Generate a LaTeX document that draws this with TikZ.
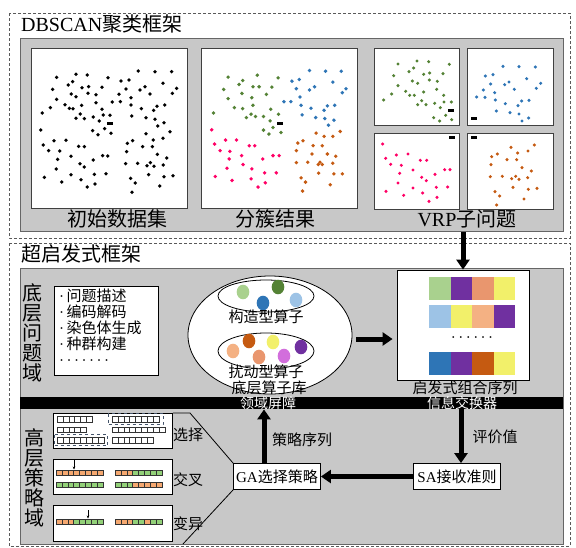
\documentclass[tikz,border=0pt]{standalone}
\usepackage{fontspec}
\setmainfont{Noto Sans CJK SC}
\newfontfamily\lat{Liberation Serif}
\usepackage{tikz}
\usetikzlibrary{arrows.meta}
\usetikzlibrary{positioning}
\usetikzlibrary{shapes.geometric}
\definecolor{boxgray}{RGB}{200,200,200}
\definecolor{dashblue}{RGB}{68,84,106}
\definecolor{cGreen}{RGB}{84,130,53}
\definecolor{cBlue}{RGB}{46,117,182}
\definecolor{cPink}{RGB}{255,0,102}
\definecolor{cOrange}{RGB}{197,90,17}
\definecolor{opLG}{RGB}{169,209,142}
\definecolor{opLB}{RGB}{157,195,230}
\definecolor{opYe}{RGB}{242,240,106}
\definecolor{opPu}{RGB}{112,48,160}
\definecolor{opLO}{RGB}{244,177,131}
\definecolor{opSal}{RGB}{233,150,110}
\definecolor{opOrc}{RGB}{210,110,220}
\definecolor{go}{RGB}{245,168,112}
\definecolor{gg}{RGB}{146,208,120}
\newcommand{\genes}[3]{%
  \foreach \gc [count=\gi from 0] in {#3}
    \draw[gene, fill=\gc] ({#1+\gi*5.9},#2) rectangle ++(5.9,5.6);}
\newcommand{\marker}[2]{\fill ({#1-3},{#2-1.5}) rectangle ({#1+3},{#2+1.5});}
\newcommand{\bul}{{\lat\textperiodcentered}}

\begin{document}
\begin{tikzpicture}[x=1pt,y=-1pt,
    frame/.style={draw=black!65, dash pattern=on 3pt off 2pt, line width=0.6pt},
    graybox/.style={draw=black!60, fill=boxgray, line width=1pt, inner sep=0pt, anchor=north west},
    panel/.style={draw=black!75, fill=white, line width=0.9pt},
    wbox/.style={draw=black, fill=white, line width=0.8pt, inner sep=0pt},
    lbl/.style={font=\fontsize{15}{15}\selectfont, inner sep=0pt},
    biglbl/.style={font=\fontsize{20}{20}\selectfont, inner sep=0pt},
    bigarrow/.style={line width=5pt, -{Triangle[length=10pt,width=13pt]}},
    gene/.style={draw=black!80, line width=0.5pt},
    selframe/.style={draw=dashblue, dashed, line width=0.8pt},
    tinyarrow/.style={line width=0.6pt, -{Stealth[length=3pt,width=2.6pt]}}]
    \useasboundingbox (0,0) rectangle (576,547);

    % DBSCAN part
    \draw[frame] (9,13) rectangle (570,238);
    \node[biglbl, anchor=west] (dbtitle) at (21,24) {{\lat DBSCAN}聚类框架};
    \node[graybox, minimum width=543pt, minimum height=193pt] (dbbox) at (20,38) {};
    \draw[panel] (31,48) rectangle (187,208);
    \draw[panel] (201,48) rectangle (357,208);
    \draw[panel] (374,48) rectangle (459,125);
    \draw[panel] (467,48) rectangle (553,125);
    \draw[panel] (374,133) rectangle (459,209);
    \draw[panel] (467,133) rectangle (553,209);

    \foreach \x/\y in {110/112,168/103,202/105,264/113,355/93,405/95,455/95,
      98/148,145/135,158/125,186/143,206/140,246/142,303/123,327/120,429/130,375/140,360/150,318/147,470/145,457/160,
      154/162,168/170,204/160,228/164,297/163,333/173,390/162,
      110/178,228/188,277/186,301/185,333/195,185/196,135/194,148/205,159/206,
      91/203,67/219,181/222,168/235,193/236,220/231,246/208,250/225,270/226,238/243,335/228,364/206,401/211,411/199,434/195,378/233,405/238,432/248,413/258,
      62/270,218/272,234/284,254/266,273/280,378/281,450/275,429/295,400/300,
      70/315,102/302,138/301,86/332,119/333,176/319,193/320,322/310,338/302,368/320,397/320,320/335,
      113/358,153/349,220/360,248/347,263/348,412/343,440/354,
      109/387,180/371,193/381,317/371,353/370,381/377,391/368,402/379,430/375,
      73/412,125/426,153/404,183/419,202/441,225/432,223/403,258/401,332/415,346/429,386/404,432/410,459/407,419/438,336/457}
      \fill ({\x/3+20},{\y/3+40}) circle (1.9);
    \marker{110}{123}

    \foreach \x/\y in {625/233,665/243,705/227,762/235,613/270,655/255,693/262,710/262,745/263,625/298,663/282,690/295,730/285,642/325,665/328,693/318,742/330,585/341,688/345,675/355,700/352,722/352,740/365,763/345,722/393,737/405,748/385,770/400}
      \fill[cGreen] ({\x/2.74},{\y/3.02}) circle (1.9);
    \foreach \x/\y in {848/213,892/215,935/215,800/245,820/240,862/262,912/248,948/268,812/268,848/272,938/280,778/307,797/307,822/293,825/318,852/327,897/320,917/318,888/333,828/347,865/355,890/358,915/363,900/378}
      \fill[cBlue] ({\x/2.74},{\y/3.02}) circle (1.9);
    \foreach \x/\y in {580/392,588/435,618/423,648/423,683/440,698/440,603/455,630/457,628/480,662/470,748/470,765/470,622/508,666/497,720/480,690/510,725/522,757/522,590/533,636/545,688/540,727/552,707/565}
      \fill[cPink] ({\x/2.74},{\y/3.02}) circle (1.9);
    \foreach \x/\y in {866/402,888/412,912/412,932/397,816/432,830/425,858/440,883/440,812/455,855/465,897/465,920/472,812/491,843/490,872/497,883/497,912/493,877/490,873/523,915/525,938/525,825/537,837/550,905/558,829/577}
      \fill[cOrange] ({\x/2.74},{\y/3.02}) circle (1.9);
    \marker{280}{123}

    \foreach \x/\y in {84/72,141/63,176/65,238/73,71/107,117/95,131/84,161/103,179/99,219/101,84/137,127/123,143/130,178/120,202/124,200/148,107/154,119/166,133/166,161/156,221/166,41/180,65/162,155/182,143/194,168/194,194/190,222/186,244/186,211/203,191/233,209/243,227/226,245/239}
      \fill[cGreen] ({\x/3+370},{\y/3+40}) circle (1.7);
    \foreach \x/\y in {399/79,447/80,496/81,346/108,369/104,470/116,362/132,404/134,417/126,512/130,340/150,374/158,433/148,499/145,320/171,345/172,376/180,406/191,455/183,477/181,444/197,379/213,420/218,447/222,476/234,456/243}
      \fill[cBlue] ({\x/3+370},{\y/3+40}) circle (1.7);
    \foreach \x/\y in {38/312,47/355,79/345,114/342,62/373,94/376,151/361,170/361,89/400,129/390,155/412,169/422,195/403,224/389,240/389,84/429,48/454,101/466,129/444,158/459,199/442,233/441,177/484,201/472}
      \fill[cPink] ({\x/3+370},{\y/3+40}) circle (1.7);
    \foreach \x/\y in {423/322,493/315,365/350,382/342,443/339,474/333,411/359,440/359,363/374,456/383,484/393,361/410,397/409,425/416,437/409,447/418,473/413,429/442,475/448,501/445,375/455,389/468,462/477,380/495}
      \fill[cOrange] ({\x/3+370},{\y/3+40}) circle (1.7);
    \marker{451}{110}
    \marker{474}{118}
    \marker{452}{137}
    \marker{474}{137}

    \node[biglbl] (rawl) at (117,219) {初始数据集};
    \node[biglbl] (clul) at (275,219) {分簇结果};
    \node[biglbl] (vrpl) at (467,219) {{\lat VRP}子问题};

    % hyper-heuristic part
    \draw[frame] (9,243) rectangle (570,546);
    \node[biglbl, anchor=west] (hhtitle) at (21,254) {超启发式框架};
    \node[graybox, minimum width=543pt, minimum height=276pt] (hhbox) at (20,268) {};
    \node[fill=black, minimum width=543pt, minimum height=12pt, inner sep=0pt, anchor=north west] (band) at (20,397) {};

    \node[biglbl, align=center] (lowdom) at (33,333) {底\\层\\问\\题\\域};
    \node[wbox, minimum width=104pt, minimum height=89pt, anchor=north west] (desc) at (54,286) {};
    \node[lbl, font=\fontsize{15}{16}\selectfont, align=left, anchor=north west] (desctxt) at (59,289)
      {\bul\,问题描述\\\bul\,编码解码\\\bul\,染色体生成\\\bul\,种群构建\\\bul\,\bul\,\bul\,\bul\,\bul\,\bul\,\bul};

    \node[ellipse, draw, fill=white, line width=0.8pt, minimum width=164pt, minimum height=118pt, inner sep=0pt] (lib) at (270,335) {};
    \node[ellipse, draw, line width=0.8pt, minimum width=96pt, minimum height=32pt, inner sep=0pt] (cons) at (266,296) {};
    \node[ellipse, draw, line width=0.8pt, minimum width=96pt, minimum height=36pt, inner sep=0pt] (pert) at (266,351) {};
    \fill[opLG] (243,292) circle [x radius=6.3, y radius=7.3];
    \fill[cGreen] (278,287) circle [x radius=6.3, y radius=7.3];
    \fill[cBlue] (263,303) circle [x radius=6.3, y radius=7.3];
    \fill[opLB] (296,300) circle [x radius=6.3, y radius=7.3];
    \fill[cOrange] (249,341) circle [x radius=6.3, y radius=7.3];
    \fill[opYe] (273,342) circle [x radius=6.3, y radius=7.3];
    \fill[opPu] (301,347) circle [x radius=6.3, y radius=7.3];
    \fill[opLO] (233,351) circle [x radius=6.3, y radius=7.3];
    \fill[opSal] (259,357) circle [x radius=6.3, y radius=7.3];
    \fill[opOrc] (284,356) circle [x radius=6.3, y radius=7.3];
    \node[lbl] (consl) at (266,317) {构造型算子};
    \node[lbl] (pertl) at (266,372) {扰动型算子};
    \node[lbl] (libl) at (269,388) {底层算子库};
    \node[lbl, font=\fontsize{14}{14}\selectfont, text=white] (bandl) at (268,403.5) {领域屏障};

    \node[wbox, minimum width=132pt, minimum height=110pt] (seq) at (463,325) {};
    \foreach \c [count=\i from 0] in {opLG,opPu,opSal,opYe}
      \fill[\c] ({429+\i*21.5},277) rectangle ++(21.5,22.5);
    \foreach \c [count=\i from 0] in {opLB,opYe,opLO,opPu}
      \fill[\c] ({429+\i*21.5},305) rectangle ++(21.5,22.5);
    \foreach \c [count=\i from 0] in {cBlue,opPu,cOrange,opYe}
      \fill[\c] ({429+\i*21.5},352) rectangle ++(21.5,22.5);
    \node[lbl] (seqdots) at (472,340) {\bul\,\bul\,\bul\,\bul\,\bul\,\bul};
    \node[lbl] (seql) at (465,388) {启发式组合序列};
    \node[lbl, font=\fontsize{14}{14}\selectfont, text=white] (xchgl) at (462,403.5) {信息交换器};

    \draw[bigarrow] (dbbox.south -| seq.north) -- (seq.north);
    \path ([shift={(4pt,-4pt)}]lib.east) coordinate (libOut);
    \draw[bigarrow] (libOut) -- ([xshift=-4pt]libOut -| seq.west);

    % high level strategy
    \node[biglbl, align=center] (highdom) at (34,478) {高\\层\\策\\略\\域};
    \node[wbox, minimum width=119pt, minimum height=35pt, anchor=north west] (sel) at (53,413) {};
    \node[wbox, minimum width=119pt, minimum height=35pt, anchor=north west] (cross) at (53,459) {};
    \node[wbox, minimum width=119pt, minimum height=36pt, anchor=north west] (mut) at (53,505) {};
    \node[lbl] (sell) at (188,435) {选择};
    \node[lbl] (crossl) at (188,480) {交叉};
    \node[lbl] (mutl) at (188,524) {变异};

    \genes{57}{416.5}{white,white,white,white,white,white}
    \genes{112}{416.5}{white,white,white,white,white,white,white,white}
    \genes{57}{427}{white,white,white,white,white}
    \genes{112}{427}{white,white,white,white,white,white,white,white,white}
    \genes{57}{437.5}{white,white,white,white,white,white,white,white}
    \genes{112}{437.5}{white,white,white,white,white,white,white}
    \draw[selframe] (108,413.5) rectangle (163,424.8);
    \draw[selframe] (54,434.5) rectangle (107.5,445.8);

    \genes{56}{470}{go,go,go,go,go,go,go,go}
    \genes{115}{470}{go,go,go,gg,gg,gg,gg,gg}
    \genes{56}{482}{gg,gg,gg,gg,gg,gg,gg,gg}
    \genes{115}{482}{gg,gg,gg,go,go,go,go,go}
    \draw[tinyarrow] (74,460) -- (74,469.5);
    \genes{56}{519}{go,go,go,gg,gg,gg,gg,gg}
    \genes{115}{519}{go,go,go,gg,gg,go,gg,gg}
    \draw[tinyarrow] (88,510) -- (88,518.5);

    \node[wbox, minimum width=87pt, minimum height=26pt, font=\fontsize{15}{15}\selectfont] (ga) at (277,476.5) {{\lat GA}选择策略};
    \node[wbox, minimum width=87pt, minimum height=26pt, font=\fontsize{15}{15}\selectfont] (sa) at (457,476.5) {{\lat SA}接收准则};
    \coordinate (hexTop) at (190,413);
    \coordinate (hexBot) at (183,544);
    \draw[line width=0.8pt] (sel.north east) -- (hexTop) -- (ga.north west);
    \draw[line width=0.8pt] (ga.south west) -- (hexBot);

    \draw[bigarrow] (sa.west) -- (ga.east);
    \path ([xshift=-13pt]ga.north) coordinate (upStart);
    \draw[bigarrow] (upStart) -- (upStart |- band.south);
    \path ([xshift=4pt]sa.north) coordinate (downEnd);
    \draw[bigarrow] (downEnd |- band.south) -- (downEnd);
    \node[lbl] (stratl) at (302,440) {策略序列};
    \node[lbl] (evall) at (495,437) {评价值};
  \end{tikzpicture}
\end{document}
